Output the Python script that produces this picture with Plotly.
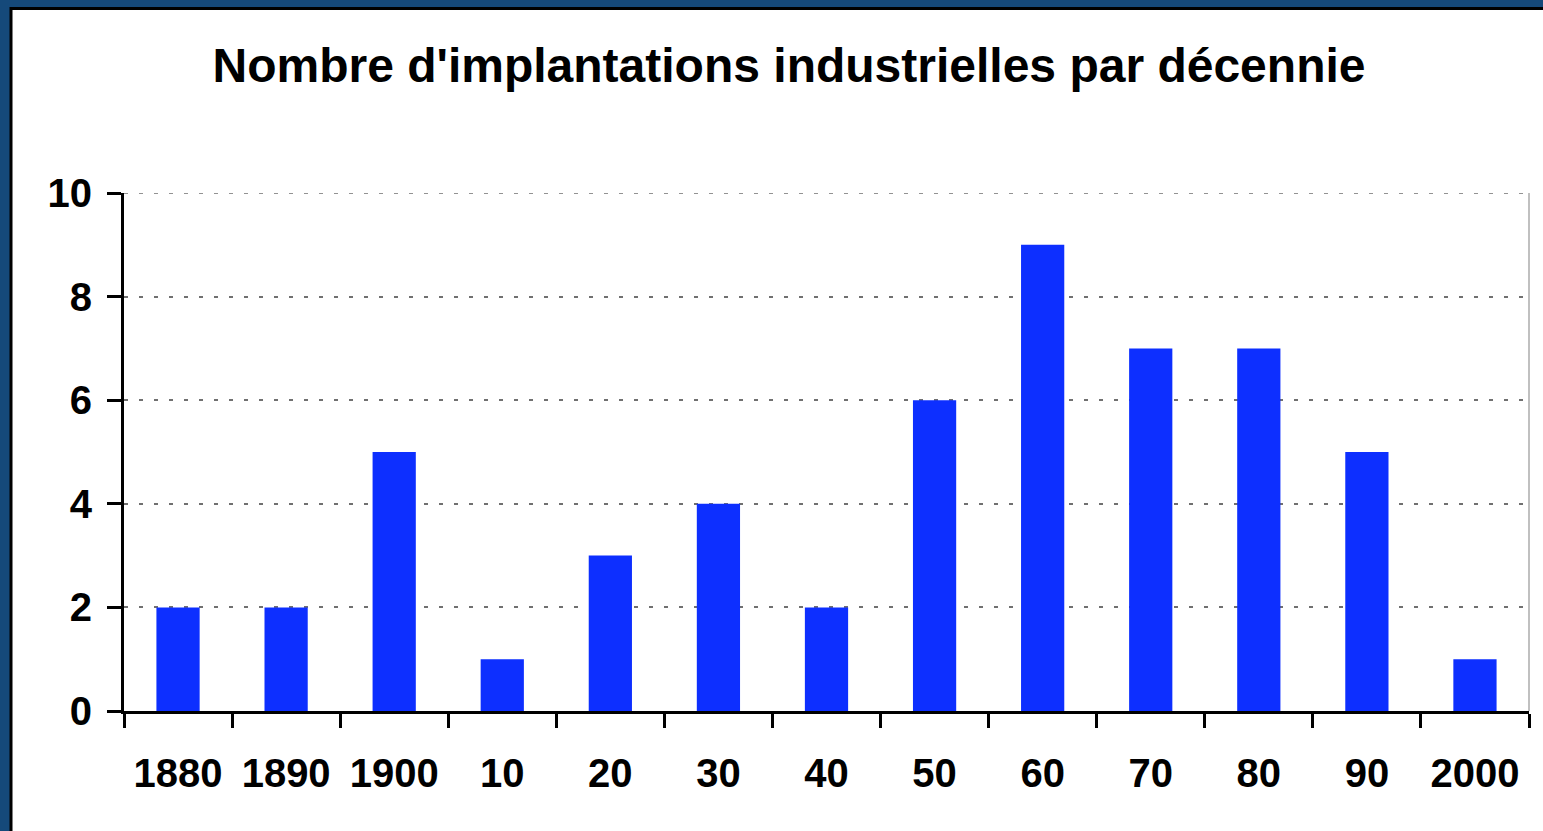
import plotly.graph_objects as go

categories = ["1880", "1890", "1900", "10", "20", "30", "40", "50", "60", "70", "80", "90", "2000"]
values = [2, 2, 5, 1, 3, 4, 2, 6, 9, 7, 7, 5, 1]
y_ticks = [0, 2, 4, 6, 8, 10]

W, H = 1543, 831
L, R, T, B = 124, 1529, 193, 711
pw, ph = R - L, B - T

def px(x):
    return (x - L) / pw

def py(y):
    return (B - y) / ph

font = "Liberation Sans, Arial, sans-serif"

fig = go.Figure(go.Bar(x=categories, y=values, marker=dict(color="#0d2fff", line=dict(width=0)), width=0.4))

fig.update_layout(
    width=W, height=H,
    margin=dict(l=L, r=W - R, t=T, b=H - B),
    paper_bgcolor="#15497a",
    plot_bgcolor="rgba(0,0,0,0)",
    showlegend=False,
    title=dict(text="<b>Nombre d'implantations industrielles par décennie</b>",
               x=789 / W, xanchor="center", y=1 - 65 / H, yanchor="middle",
               font=dict(family=font, size=48, color="black")),
    font=dict(family=font, color="black"),
    shapes=[
        dict(type="rect", xref="paper", yref="paper", layer="below",
             x0=px(11), x1=px(1560), y0=py(850), y1=py(8.5),
             fillcolor="white", line=dict(color="black", width=3)),
        dict(type="line", xref="paper", yref="paper", layer="above",
             x0=1, x1=1, y0=0, y1=1, line=dict(color="#c0c0c0", width=2)),
        dict(type="line", xref="paper", yref="y", layer="below",
             x0=0, x1=1, y0=max(y_ticks), y1=max(y_ticks),
             line=dict(color="#707070", width=1.5, dash="4px,11px")),
    ],
)

fig.update_xaxes(
    type="category", tickson="boundaries", ticks="outside", ticklen=14, tickwidth=3,
    tickcolor="black", showline=True, linecolor="black", linewidth=3,
    showgrid=False, ticklabelstandoff=25,
    tickfont=dict(family=font, size=40, color="black", weight="bold"),
)
fig.update_yaxes(
    range=[0, 10], tickvals=y_ticks, ticks="outside", ticklen=14, tickwidth=3,
    tickcolor="black", showline=True, linecolor="black", linewidth=3,
    showgrid=True, gridcolor="#707070", gridwidth=1.5, griddash="4px,11px",
    zeroline=False, ticklabelstandoff=7,
    tickfont=dict(family=font, size=40, color="black", weight="bold"),
)

fig.write_html("out.html", config={"displayModeBar": False},
               post_script="document.body.style.margin='0';")
